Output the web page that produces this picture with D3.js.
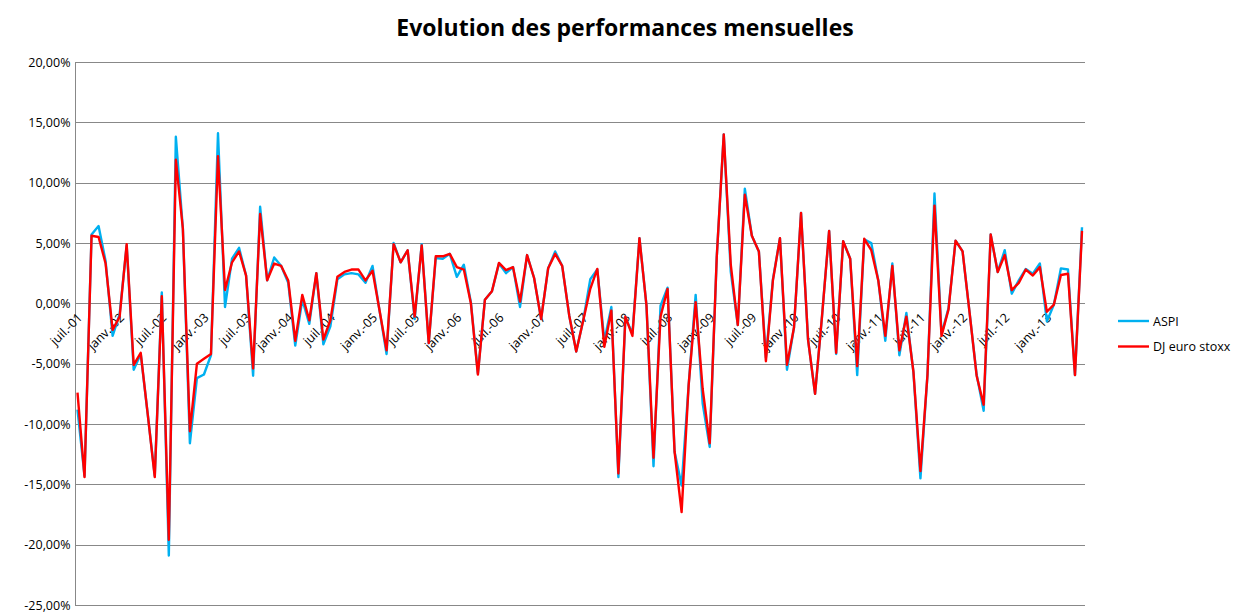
<!DOCTYPE html>
<html>
<head>
<meta charset="utf-8">
<script src="https://cdn.jsdelivr.net/npm/d3@7"></script>
<style>
  html, body { margin: 0; padding: 0; background: #fff; }
  svg { display: block; }
  text { font-family: "Open Sans", "Liberation Sans", sans-serif; fill: #000; }
</style>
</head>
<body>
<svg id="chart" width="1234" height="612"></svg>
<script>
// ---- data (monthly performance, %) ----
const startMonth = new Date(2001, 6, 1); // juil.-01
const aspi = [
  -8.8, -14.3, 5.7, 6.4, 3.5, -2.7, -0.9, 4.8, -5.5, -4.2, -9.2, -14.3,
  0.9, -20.9, 13.8, 6.2, -11.6, -6.2, -5.9, -4.3, 14.1, -0.3, 3.7, 4.6,
  2.3, -6.0, 8.0, 1.9, 3.8, 3.1, 1.7, -3.5, 0.3, -1.7, 2.5, -3.4,
  -1.9, 2.0, 2.4, 2.5, 2.4, 1.7, 3.1, -0.6, -4.2, 5.0, 3.4, 4.4,
  -1.3, 4.9, -3.3, 3.75, 3.7, 4.1, 2.2, 3.2, 0.1, -5.8, 0.3, 1.0,
  3.3, 2.5, 3.0, -0.3, 4.0, 2.1, -1.3, 2.9, 4.3, 3.1, -1.0, -4.0,
  -1.4, 2.0, 2.8, -3.1, -0.3, -14.4, -1.2, -2.5, 5.4, -0.2, -13.5, -0.2,
  1.3, -12.3, -15.1, -6.8, 0.7, -8.3, -11.9, 3.8, 14.0, 2.6, -1.8, 9.5,
  5.6, 4.3, -4.5, 2.0, 5.4, -5.5, -2.0, 7.5, -3.0, -7.5, -1.0, 6.0,
  -4.2, 5.15, 3.7, -5.95, 5.3, 5.0, 1.9, -3.1, 3.3, -4.3, -0.8, -5.7,
  -14.5, -5.95, 9.1, -2.55, -0.4, 5.2, 4.3, -0.8, -5.9, -8.9, 5.7, 2.6,
  4.4, 0.8, 1.9, 2.85, 2.45, 3.3, -1.5, -0.1, 2.9, 2.8, -5.95, 6.3
];
const djEuroStoxx = [
  -7.4, -14.4, 5.6, 5.5, 3.3, -2.2, -1.1, 4.9, -5.1, -4.1, -9.2, -14.4,
  0.6, -19.6, 11.9, 6.2, -10.6, -5.0, -4.6, -4.2, 12.2, 1.1, 3.4, 4.3,
  2.3, -5.4, 7.4, 1.9, 3.3, 3.1, 1.9, -3.1, 0.7, -1.4, 2.5, -3.0,
  -1.4, 2.2, 2.6, 2.8, 2.8, 1.9, 2.7, -0.6, -3.9, 4.9, 3.4, 4.4,
  -1.1, 4.8, -3.3, 3.9, 3.9, 4.1, 3.0, 2.8, 0.0, -5.9, 0.3, 1.0,
  3.35, 2.75, 3.0, 0.15, 4.0, 2.1, -1.3, 2.9, 4.1, 3.1, -1.0, -4.0,
  -1.4, 1.2, 2.85, -3.6, -0.6, -14.1, -1.1, -2.7, 5.4, -0.2, -12.8, -1.1,
  1.2, -12.3, -17.3, -6.8, 0.1, -7.1, -11.6, 3.8, 14.0, 3.2, -1.8, 9.0,
  5.6, 4.3, -4.8, 1.9, 5.4, -5.1, -2.0, 7.5, -3.0, -7.5, -1.0, 6.0,
  -4.1, 5.15, 3.7, -5.2, 5.35, 4.4, 1.9, -2.7, 3.1, -3.9, -1.1, -5.65,
  -13.9, -5.95, 8.1, -2.7, -0.5, 5.2, 4.3, -0.8, -6.0, -8.4, 5.7, 2.6,
  4.0, 1.1, 1.7, 2.8, 2.3, 3.0, -0.7, -0.1, 2.35, 2.45, -5.95, 6.0
];
const yTicks = [20, 15, 10, 5, 0, -5, -10, -15, -20, -25];
const xTickLabels = [
  "juil.-01", "janv.-02", "juil.-02", "janv.-03", "juil.-03", "janv.-04",
  "juil.-04", "janv.-05", "juil.-05", "janv.-06", "juil.-06", "janv.-07",
  "juil.-07", "janv.-08", "juil.-08", "janv.-09", "juil.-09", "janv.-10",
  "juil.-10", "janv.-11", "juil.-11", "janv.-12", "juil.-12", "janv.-13"
];
const seriesNames = ["ASPI", "DJ euro stoxx"];
const seriesColors = ["#00B0F0", "#FF0000"];
const title = "Evolution des performances mensuelles";

// ---- layout ----
const svg = d3.select("#chart");
const plot = { left: 75, right: 1085, top: 62, bottom: 605 };

const months = d3.range(aspi.length).map(i => d3.timeMonth.offset(startMonth, i));
const x = d3.scalePoint()
  .domain(months.map(d => +d))
  .range([77.5, 1082]);
const y = d3.scaleLinear().domain([-25, 20]).range([plot.bottom, plot.top]);

// gridlines
svg.append("g")
  .selectAll("line")
  .data(yTicks)
  .join("line")
  .attr("x1", plot.left).attr("x2", plot.right)
  .attr("y1", d => Math.round(y(d)) + 0.5).attr("y2", d => Math.round(y(d)) + 0.5)
  .attr("stroke", "#888888").attr("stroke-width", 1);

// y axis
const yAxis = d3.axisLeft(y)
  .tickValues(yTicks)
  .tickSize(0)
  .tickPadding(5)
  .tickFormat(d => d.toFixed(2).replace(".", ",") + "%");
const gy = svg.append("g").attr("transform", `translate(${plot.left + 0.5},0)`).call(yAxis);
gy.select(".domain").attr("stroke", "#888888").attr("d", `M0,${plot.top}V${plot.bottom}`);
gy.selectAll("text")
  .style("font-family", '"Open Sans", sans-serif')
  .style("font-size", "12.5px")
  .attr("fill", "#000");

// x axis (labels along zero line)
const tickDates = months.filter(d => d.getMonth() === 6 || d.getMonth() === 0);
const labelOf = new Map(tickDates.map((d, i) => [+d, xTickLabels[i]]));
const xAxis = d3.axisBottom(x)
  .tickValues(tickDates.map(d => +d))
  .tickSize(0)
  .tickFormat(d => labelOf.get(d));
const gx = svg.append("g").attr("transform", `translate(0,${Math.round(y(0)) + 0.5})`).call(xAxis);
gx.select(".domain").remove();
gx.selectAll("text")
  .style("font-family", '"Open Sans", sans-serif')
  .style("font-size", "12.5px")
  .attr("fill", "#000")
  .attr("text-anchor", "end")
  .attr("dy", null)
  .attr("y", 0)
  .attr("transform", "translate(5,15) rotate(-45)");

// lines
const line = d3.line()
  .x((d, i) => x(+months[i]))
  .y(d => y(d));
[aspi, djEuroStoxx].forEach((s, k) => {
  svg.append("path")
    .datum(s)
    .attr("fill", "none")
    .attr("stroke", seriesColors[k])
    .attr("stroke-width", 2.4)
    .attr("stroke-linejoin", "round")
    .attr("d", line);
});

// title
svg.append("text")
  .attr("x", 625).attr("y", 36)
  .attr("text-anchor", "middle")
  .style("font-family", '"Open Sans", sans-serif')
  .style("font-weight", "bold")
  .style("font-size", "23px")
  .text(title);

// legend
const lg = svg.append("g").attr("transform", "translate(1118,321)");
seriesNames.forEach((n, k) => {
  const g = lg.append("g").attr("transform", `translate(0,${k * 25.5})`);
  g.append("line").attr("x1", 0).attr("x2", 31).attr("y1", 0).attr("y2", 0)
    .attr("stroke", seriesColors[k]).attr("stroke-width", 2.4);
  g.append("text").attr("x", 35).attr("y", 4.5)
    .style("font-size", "12.5px").text(n);
});
</script>
</body>
</html>
